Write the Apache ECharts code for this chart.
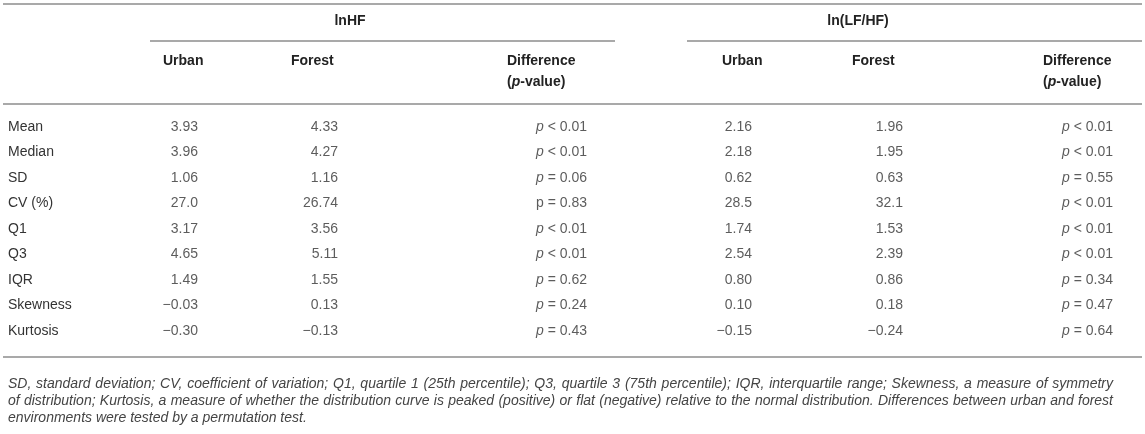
<!DOCTYPE html>
<html lang="en">
<head>
  <meta charset="UTF-8">
  <title>lnHF and ln(LF/HF) table</title>
  <script src="https://cdn.jsdelivr.net/npm/echarts@6.0.0/dist/echarts.min.js"></script>
  <style>
    html, body { margin: 0; padding: 0; background: #fff; }
  </style>
</head>
<body>
  <div id="main" style="width: 1145px;height:434px"></div>
  <script>
    var FONT = '"Liberation Sans", Arial, Helvetica, sans-serif'

    // table rows
    var rowNames = ['Mean', 'Median', 'SD', 'CV (%)', 'Q1', 'Q3', 'IQR', 'Skewness', 'Kurtosis']

    // lnHF
    var hfUrban = ['3.93', '3.96', '1.06', '27.0', '3.17', '4.65', '1.49', '\u22120.03', '\u22120.30']
    var hfForest = ['4.33', '4.27', '1.16', '26.74', '3.56', '5.11', '1.55', '0.13', '\u22120.13']
    var hfP = ['< 0.01', '< 0.01', '= 0.06', '= 0.83', '< 0.01', '< 0.01', '= 0.62', '= 0.24', '= 0.43']
    var hfItalic = [true, true, true, false, true, true, true, true, true]

    // ln(LF/HF)
    var lfUrban = ['2.16', '2.18', '0.62', '28.5', '1.74', '2.54', '0.80', '0.10', '\u22120.15']
    var lfForest = ['1.96', '1.95', '0.63', '32.1', '1.53', '2.39', '0.86', '0.18', '\u22120.24']
    var lfP = ['< 0.01', '< 0.01', '= 0.55', '< 0.01', '< 0.01', '< 0.01', '= 0.34', '= 0.47', '= 0.64']
    var lfItalic = [true, true, true, true, true, true, true, true, true]

    var groupTitles = ['lnHF', 'ln(LF/HF)']
    var colTitles = ['Urban', 'Forest']

    var footLines = [
      'SD, standard deviation; CV, coefficient of variation; Q1, quartile 1 (25th percentile); Q3, quartile 3 (75th percentile); IQR, interquartile range; Skewness, a measure of symmetry',
      'of distribution; Kurtosis, a measure of whether the distribution curve is peaked (positive) or flat (negative) relative to the normal distribution. Differences between urban and forest',
      'environments were tested by a permutation test.'
    ]

    // right edge of each value column (px on the 0..1145 x scale)
    var colRight = [198, 338, 587, 752, 903, 1113]
    // left edge of the column headers
    var headLeft = [163, 291, 507, 722, 852, 1043]

    var mCharts = echarts.init(document.getElementById('main'))

    function cells(values, col, italic) {
      return values.map(function (v, i) {
        var txt = v
        if (italic) txt = (italic[i] ? '{i|p}' : 'p') + ' ' + v
        return [colRight[col], rowNames[i], txt]
      })
    }

    function valueSeries(values, col, italic) {
      return {
        type: 'scatter',
        symbolSize: 0,
        silent: true,
        data: cells(values, col, italic),
        label: {
          show: true,
          position: 'left',
          distance: 0,
          fontFamily: FONT,
          fontSize: 14,
          color: '#333',
          formatter: function (p) { return p.data[2] },
          rich: {
            i: { fontStyle: 'italic', fontFamily: FONT, fontSize: 14, color: '#333' }
          }
        }
      }
    }

    var graphics = []
    var lineColor = '#a9a9a9'
    function hline(x1, x2, y) {
      graphics.push({
        type: 'line', silent: true,
        shape: { x1: x1, y1: y, x2: x2, y2: y },
        style: { stroke: lineColor, lineWidth: 2 }
      })
    }
    function txt(text, x, y, align, bold) {
      graphics.push({
        type: 'text', silent: true, x: x, y: y,
        style: {
          text: text, align: align, verticalAlign: 'middle',
          font: (bold ? 'bold ' : '') + '14px ' + FONT,
          fill: '#222',
          rich: { i: { font: 'italic bold 14px ' + FONT, fill: '#222' } }
        }
      })
    }

    // rules
    hline(3, 1142, 4)
    hline(150, 615, 41)
    hline(687, 1142, 41)
    hline(3, 1142, 104)
    hline(3, 1142, 357)

    // group headers
    txt(groupTitles[0], 350, 21, 'center', true)
    txt(groupTitles[1], 858, 21, 'center', true)
    // column headers
    for (var g = 0; g < 2; g++) {
      txt(colTitles[0], headLeft[g * 3], 61, 'left', true)
      txt(colTitles[1], headLeft[g * 3 + 1], 61, 'left', true)
      txt('Difference', headLeft[g * 3 + 2], 61, 'left', true)
      txt('({i|p}-value)', headLeft[g * 3 + 2], 82, 'left', true)
    }

    // footnote, justified like the source
    var ctx = document.createElement('canvas').getContext('2d')
    var footFont = 'italic 14px ' + FONT
    ctx.font = footFont
    var footLeft = 8, footRight = 1113
    var footY = [384, 401, 418]
    footLines.forEach(function (line, li) {
      var words = line.split(' ')
      var last = li === footLines.length - 1
      var gap = ctx.measureText(' ').width
      if (!last) {
        var sum = 0
        words.forEach(function (w) { sum += ctx.measureText(w).width })
        gap = (footRight - footLeft - sum) / (words.length - 1)
      }
      var x = footLeft
      words.forEach(function (w) {
        graphics.push({
          type: 'text', silent: true, x: x, y: footY[li],
          style: { text: w, font: footFont, fill: '#444', align: 'left', verticalAlign: 'middle' }
        })
        x += ctx.measureText(w).width + gap
      })
    })

    var option = {
      animation: false,
      grid: { left: 0, right: 0, top: 114.25, height: 229.5 },
      xAxis: { type: 'value', min: 0, max: 1145, show: false },
      yAxis: {
        type: 'category',
        inverse: true,
        data: rowNames,
        axisLine: { show: false },
        axisTick: { show: false },
        splitLine: { show: false },
        axisLabel: {
          inside: true,
          margin: 8,
          fontFamily: FONT,
          fontSize: 14,
          color: '#333'
        }
      },
      series: [
        valueSeries(hfUrban, 0),
        valueSeries(hfForest, 1),
        valueSeries(hfP, 2, hfItalic),
        valueSeries(lfUrban, 3),
        valueSeries(lfForest, 4),
        valueSeries(lfP, 5, lfItalic)
      ],
      graphic: graphics
    }
    mCharts.setOption(option)
  </script>
</body>
</html>
